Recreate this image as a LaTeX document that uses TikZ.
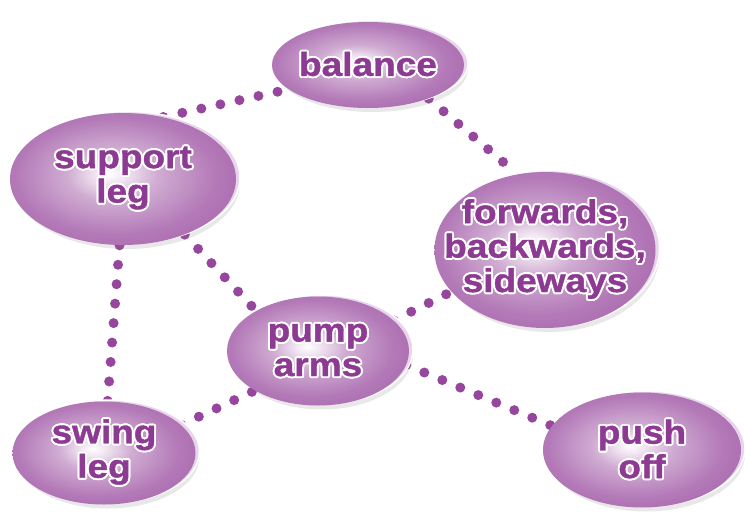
\documentclass[tikz,border=0pt]{standalone}
\usepackage{fontspec}
\setmainfont{Liberation Sans}[FakeStretch=1.12,BoldFeatures={FakeBold=1.2}]
\usepackage{xcolor}
\usepackage[copies]{contour}
\usepackage{tikz}
\usetikzlibrary{shapes.geometric,shadows,backgrounds}

\definecolor{blobpurple}{RGB}{150,70,156}
\definecolor{txtpurple}{RGB}{140,58,146}
\definecolor{dotpurple}{RGB}{150,70,156}
\definecolor{rimlilac}{RGB}{232,212,236}
\pgfdeclareradialshading{blobshade}{\pgfpoint{-3bp}{2bp}}{color(0bp)=(white);color(3bp)=(white!88!blobpurple);color(10bp)=(blobpurple!45!white);color(22bp)=(blobpurple!72!white);color(38bp)=(blobpurple!90!white);color(50bp)=(blobpurple)}
\contourlength{1.1pt}
\contournumber{16}
\newcommand{\blobtxt}[1]{\contour{white}{#1}}

\tikzset{
blob/.style={ellipse,inner sep=0pt,shading=blobshade,
 drop shadow={opacity=0.18,shadow xshift=0.8mm,shadow yshift=-0.8mm},
 preaction={fill=rimlilac,draw=white,line width=0.3mm,transform canvas={xshift=0.8mm,yshift=0.3mm}}},
blobtext/.style={font=\bfseries\fontsize{18.8}{19.6}\selectfont,text=txtpurple,align=center},
dotline/.style={dotpurple,line width=2mm,line cap=round,dash pattern=on 0pt off 3.9mm}
}

\begin{document}
\begin{tikzpicture}[x=0.2mm,y=-0.2mm]
\useasboundingbox (0,0) rectangle (745,514);
\node[blob,minimum width=38.4mm,minimum height=17.2mm,label={[blobtext]center:\blobtxt{balance}}] (balance) at (368,65) {};
\node[blob,minimum width=45.2mm,minimum height=26.4mm,label={[blobtext]center:{\blobtxt{support}\\\blobtxt{leg}}}] (support) at (123,179) {};
\node[blob,minimum width=44.2mm,minimum height=31.2mm,label={[blobtext]center:{\blobtxt{forwards,}\\\blobtxt{backwards,}\\\blobtxt{sideways}}}] (ways) at (545,250) {};
\node[blob,minimum width=36.4mm,minimum height=21.8mm,label={[blobtext]center:{\blobtxt{pump}\\\blobtxt{arms}}}] (pump) at (318,351) {};
\node[blob,minimum width=36.6mm,minimum height=20.6mm,label={[blobtext]center:{\blobtxt{swing}\\\blobtxt{leg}}}] (swing) at (104,453) {};
\node[blob,minimum width=39.6mm,minimum height=23mm,label={[blobtext]center:{\blobtxt{push}\\\blobtxt{off}}}] (push) at (642,450) {};
\begin{scope}[on background layer]
\draw[dotline](support.57)--(balance.197);
\draw[dotline](balance.-29)--(ways.110);
\draw[dotline](support.-93)--(swing.86);
\draw[dotline](support.-42)--(pump.147);
\draw[dotline](pump.22)--(ways.204);
\draw[dotline](swing.20)--(pump.212);
\draw[dotline](pump.-9)--(push.165);
\end{scope}
\end{tikzpicture}
\end{document}
